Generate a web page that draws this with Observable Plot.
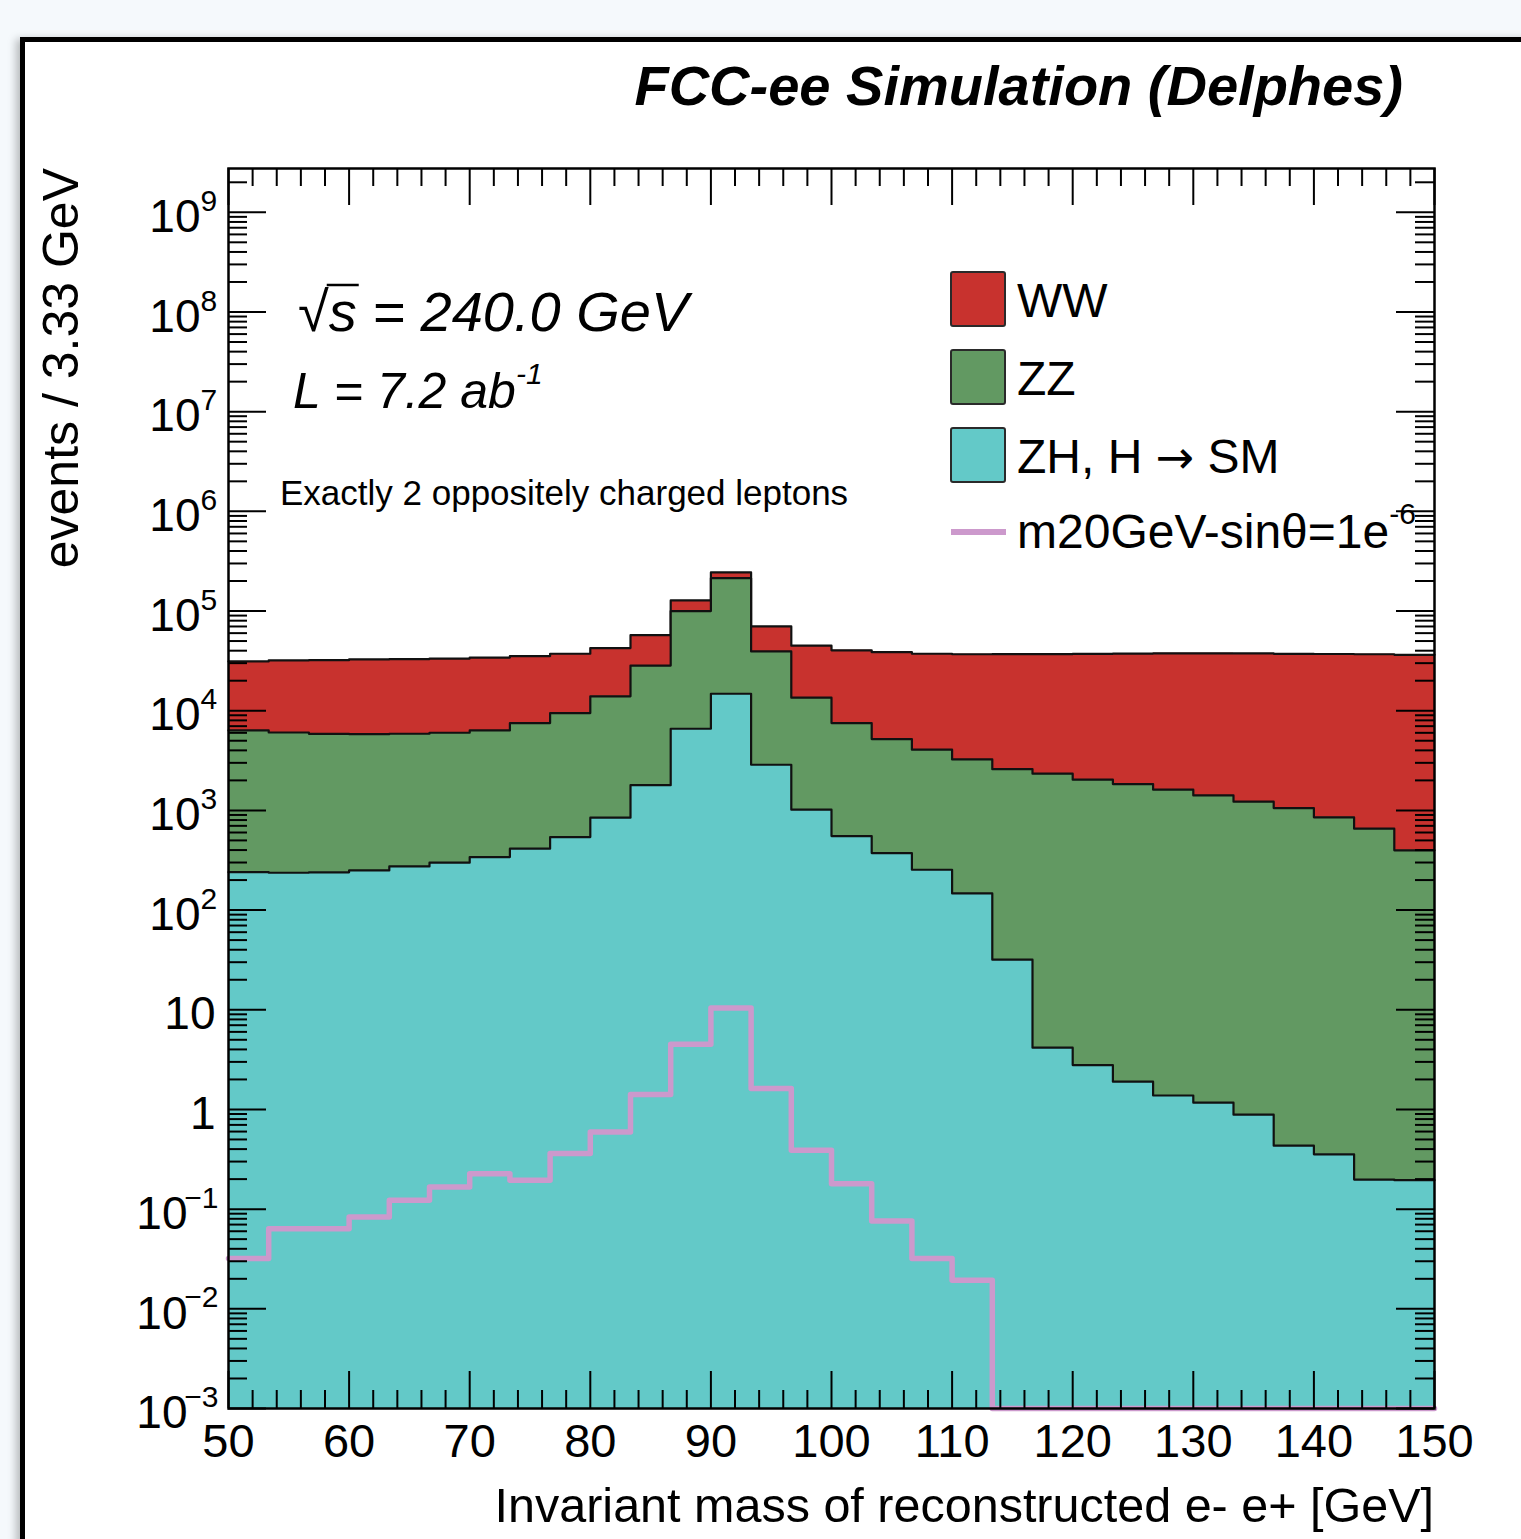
<!DOCTYPE html>
<html><head><meta charset="utf-8">
<script src="https://cdn.jsdelivr.net/npm/d3@7"></script>
<script src="https://cdn.jsdelivr.net/npm/@observablehq/plot@0.6"></script>
<style>
html,body{margin:0;padding:0;background:#f5f9fc;width:1521px;height:1539px;overflow:hidden;}
#canvas{position:absolute;left:20px;top:37px;width:1600px;height:1600px;background:#fff;border-top:5px solid #000;border-left:5px solid #000;box-shadow:-4px 2px 8px rgba(0,0,0,0.25);}
#chart{position:absolute;left:0;top:0;width:1521px;height:1539px;}
</style></head><body>
<div id="canvas"></div>
<div id="chart"></div>
<script>
// ---- data ----
const xMin = 50, xMax = 150, nBins = 30;
const seriesNames = ["WW", "ZZ", "ZH, H \u2192 SM"];
const signalName = "m20GeV-sin\u03b8=1e";
const ww = [24900, 25900, 26300, 26900, 27100, 27300, 27800, 27800, 27800, 28600, 28900, 27900, 29900, 30700, 31400, 32800, 33500, 33200, 33600, 34300, 34700, 35200, 35600, 36000, 36200, 36300, 36200, 36200, 36200, 36000];
const zz = [6100, 5810, 5630, 5570, 5600, 5710, 6000, 7110, 8920, 13100, 26600, 93200, 199000, 36500, 12500, 6970, 4820, 3810, 3100, 2560, 2330, 2030, 1835, 1612, 1412, 1221, 1055, 851, 655, 397];
const zh = [240, 237, 239, 250, 274, 299, 340, 413, 540, 845, 1790, 6590, 14800, 2870, 1016, 552, 373, 254, 147, 31.8, 4.17, 2.79, 1.90, 1.38, 1.17, 0.887, 0.433, 0.355, 0.198, 0.195];
const signal = [0.0319, 0.0637, 0.0637, 0.0834, 0.1225, 0.1666, 0.227, 0.1945, 0.3605, 0.593, 1.415, 4.50, 10.4, 1.62, 0.389, 0.180, 0.0760, 0.0319, 0.0193, 0, 0, 0, 0, 0, 0, 0, 0, 0, 0, 0];
const xTickValues = [50, 60, 70, 80, 90, 100, 110, 120, 130, 140, 150];
const yExponents = [-3, -2, -1, 0, 1, 2, 3, 4, 5, 6, 7, 8, 9];
const colors = {ww: "#c8322e", zz: "#629962", zh: "#63c9c8", sig: "#cc99cc"};

const ymin = 1e-3, ymax = 2.75e9;
const edges = d3.range(nBins).map(i => xMin + i * (xMax - xMin) / nBins);
const steps = vals => vals.map((v, i) => ({x: edges[i], y: v})).concat([{x: xMax, y: vals[vals.length - 1]}]);

const topZH = zh;
const topZZ = zz.map((v, i) => v + zh[i]);
const topWW = ww.map((v, i) => v + topZZ[i]);
const layers = [
  {top: topWW, color: colors.ww},
  {top: topZZ, color: colors.zz},
  {top: topZH, color: colors.zh}
];

const W = 1521, H = 1539, mL = 228, mR = 87, mT = 168, mB = 131;
const fw = W - mL - mR, fh = H - mT - mB;
const majL = 38, minL = 19;

const yMajor = yExponents.map(e => 10 ** e);
const yMinor = [];
yExponents.forEach(e => { for (let k = 2; k <= 9; k++) { const v = k * 10 ** e; if (v < ymax) yMinor.push(v); } });
const xMinor = d3.range(xMin, xMax + 0.1, 2).filter(v => v % 10 !== 0);

const tickStyle = {stroke: "#000", strokeWidth: 2};
const posE = yExponents.filter(e => e >= 2);
const negE = yExponents.filter(e => e < 0);
const plainE = yExponents.filter(e => e === 0 || e === 1);

const marks = [];
layers.forEach(L => {
  marks.push(Plot.areaY(steps(L.top), {x: "x", y1: ymin, y2: "y", curve: "step-after", fill: L.color}));
  marks.push(Plot.lineY(steps(L.top), {x: "x", y: "y", curve: "step-after", stroke: "#111", strokeWidth: 2.2}));
});
marks.push(Plot.lineY(steps(signal.map(v => Math.max(v, ymin))), {x: "x", y: "y", curve: "step-after", stroke: colors.sig, strokeWidth: 5.5}));
// ticks (inward, ROOT style)
marks.push(Plot.tickY(yMajor, {y: d => d, insetRight: fw - majL, ...tickStyle}));
marks.push(Plot.tickY(yMajor, {y: d => d, insetLeft: fw - majL, ...tickStyle}));
marks.push(Plot.tickY(yMinor, {y: d => d, insetRight: fw - minL, ...tickStyle}));
marks.push(Plot.tickY(yMinor, {y: d => d, insetLeft: fw - minL, ...tickStyle}));
marks.push(Plot.tickX(xTickValues, {x: d => d, insetTop: fh - 37, ...tickStyle}));
marks.push(Plot.tickX(xTickValues, {x: d => d, insetBottom: fh - 37, ...tickStyle}));
marks.push(Plot.tickX(xMinor, {x: d => d, insetTop: fh - 18, ...tickStyle}));
marks.push(Plot.tickX(xMinor, {x: d => d, insetBottom: fh - 18, ...tickStyle}));
marks.push(Plot.frame({stroke: "#000", strokeWidth: 2.5}));
// tick labels
marks.push(Plot.text(posE, {y: d => 10 ** d, text: () => "10", frameAnchor: "left", textAnchor: "end", dx: -28, dy: 5, fontSize: 46, fill: "#000"}));
marks.push(Plot.text(posE, {y: d => 10 ** d, text: d => String(d), frameAnchor: "left", textAnchor: "start", dx: -28, dy: -11, fontSize: 30, fill: "#000"}));
marks.push(Plot.text(negE, {y: d => 10 ** d, text: () => "10", frameAnchor: "left", textAnchor: "end", dx: -41, dy: 5, fontSize: 46, fill: "#000"}));
marks.push(Plot.text(negE, {y: d => 10 ** d, text: d => "\u2212" + Math.abs(d), frameAnchor: "left", textAnchor: "end", dx: -10, dy: -11, fontSize: 30, fill: "#000"}));
marks.push(Plot.text(plainE, {y: d => 10 ** d, text: d => String(10 ** d), frameAnchor: "left", textAnchor: "end", dx: -13, dy: 5, fontSize: 46, fill: "#000"}));
marks.push(Plot.text(xTickValues, {x: d => d, text: d => String(d), frameAnchor: "bottom", dy: 48, fontSize: 47, fill: "#000"}));

const chart = Plot.plot({
  width: W, height: H,
  marginLeft: mL, marginRight: mR, marginTop: mT, marginBottom: mB,
  x: {domain: [xMin, xMax], axis: null},
  y: {type: "log", domain: [ymin, ymax], axis: null},
  style: {background: "transparent", overflow: "visible", fontFamily: "'Liberation Sans', Arial, Helvetica, sans-serif"},
  marks
});
document.getElementById("chart").appendChild(chart);

// ---- annotations ----
const svg = d3.select(chart);
const FF = "'Liberation Sans', Arial, Helvetica, sans-serif";
function txt(x, y, size, opts = {}) {
  return svg.append("text").attr("x", x).attr("y", y)
    .attr("font-family", FF).attr("font-size", size).attr("fill", "#000")
    .attr("font-weight", opts.weight || "normal").attr("font-style", opts.style || "normal")
    .attr("text-anchor", opts.anchor || "start");
}
txt(1403, 105, 56, {weight: "bold", style: "italic", anchor: "end"}).text("FCC-ee Simulation (Delphes)");

const s = txt(298, 331, 56, {style: "italic"});
s.append("tspan").attr("font-style", "normal").text("\u221a");
s.append("tspan").text("s");
s.append("tspan").text(" = 240.0 GeV");
const sn = s.node();
const x0 = 298 + sn.getSubStringLength(0, 1);
const x1 = x0 + sn.getSubStringLength(1, 1);
svg.append("line").attr("x1", x0 - 2).attr("x2", x1 + 2).attr("y1", 285).attr("y2", 285).attr("stroke", "#000").attr("stroke-width", 2.5);

const l = txt(293, 408, 50, {style: "italic"});
l.append("tspan").text("L = 7.2 ab");
l.append("tspan").attr("font-size", 30).attr("dy", -24).text("-1");

txt(280, 505, 35).text("Exactly 2 oppositely charged leptons");

// legend
const legendBoxes = [colors.ww, colors.zz, colors.zh];
const legendY = [272, 350, 428];
legendBoxes.forEach((c, i) => {
  svg.append("rect").attr("x", 951).attr("y", legendY[i]).attr("width", 54).attr("height", 54)
    .attr("rx", 2).attr("fill", c).attr("stroke", "#2a2a2a").attr("stroke-width", 2);
  const t = txt(1017, legendY[i] + 45, 48);
  const parts = seriesNames[i].split("\u2192");
  t.append("tspan").text(parts[0]);
  if (parts.length > 1) {
    t.append("tspan").attr("font-family", "'DejaVu Sans', sans-serif").attr("font-size", 46).text("\u2192");
    t.append("tspan").text(parts[1]);
  }
});
svg.append("line").attr("x1", 951).attr("x2", 1006).attr("y1", 532).attr("y2", 532).attr("stroke", colors.sig).attr("stroke-width", 6);
const sg = txt(1017, 548, 48);
sg.append("tspan").text(signalName);
sg.append("tspan").attr("font-size", 30).attr("dy", -24).text("-6");

// axis titles
txt(1434, 1522, 48.5, {anchor: "end"}).text("Invariant mass of reconstructed e- e+ [GeV]");
txt(0, 0, 50, {anchor: "end"}).attr("transform", "translate(78,168) rotate(-90)").text("events / 3.33 GeV");
</script>
</body></html>
